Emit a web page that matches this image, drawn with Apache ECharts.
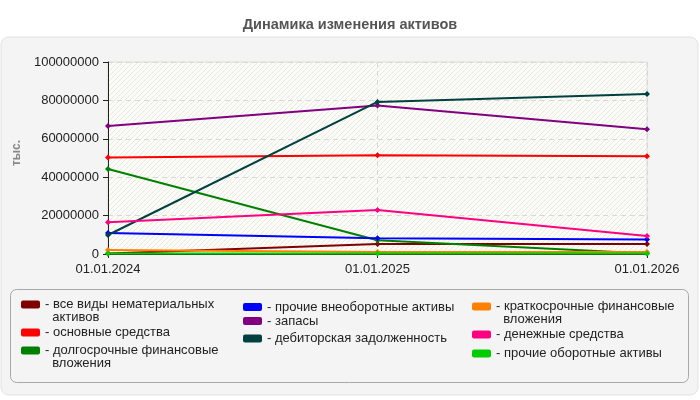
<!DOCTYPE html>
<html>
<head>
<meta charset="utf-8">
<script src="https://cdn.jsdelivr.net/npm/echarts@6/dist/echarts.min.js"></script>
<style>html,body{margin:0;padding:0;background:#fff;}#c{width:700px;height:400px;}</style>
</head>
<body>
<div id="c"></div>
<script>
const categories = ['01.01.2024', '01.01.2025', '01.01.2026'];
const intangibles = [300000, 5200000, 5200000];
const fixedAssets = [50300000, 51400000, 50900000];
const longTermInvest = [44300000, 7200000, 300000];
const otherNonCurrent = [11000000, 8200000, 7600000];
const inventories = [66700000, 77400000, 65000000];
const receivables = [9900000, 79200000, 83300000];
const shortTermInvest = [2100000, 1000000, 1000000];
const cash = [16500000, 22900000, 9400000];
const otherCurrent = [200000, 200000, 200000];
const yTicks = [0, 20000000, 40000000, 60000000, 80000000, 100000000];

const seriesDefs = [
  { name: 'все виды нематериальных\nактивов', data: intangibles, color: '#800000' },
  { name: 'основные средства', data: fixedAssets, color: '#ff0000' },
  { name: 'долгосрочные финансовые\nвложения', data: longTermInvest, color: '#008000' },
  { name: 'прочие внеоборотные активы', data: otherNonCurrent, color: '#0000ff' },
  { name: 'запасы', data: inventories, color: '#800080' },
  { name: 'дебиторская задолженность', data: receivables, color: '#004040' },
  { name: 'краткосрочные финансовые\nвложения', data: shortTermInvest, color: '#ff8000' },
  { name: 'денежные средства', data: cash, color: '#ff0080' },
  { name: 'прочие оборотные активы', data: otherCurrent, color: '#00cc00' }
];
// legend placement: [left, icon centre y]
const legendPos = [
  [21, 303], [21, 331], [21, 349],
  [243, 305.5], [243, 319.5], [243, 337],
  [472, 305], [472, 333], [472, 352]
];

// hatch pattern for plot background
const pc = document.createElement('canvas');
pc.width = 5; pc.height = 5;
const pctx = pc.getContext('2d');
pctx.fillStyle = '#fcfcf7';
pctx.fillRect(0, 0, 5, 5);
pctx.strokeStyle = '#e8e8e6';
pctx.lineWidth = 1;
pctx.beginPath();
pctx.moveTo(0, 5); pctx.lineTo(5, 0);
pctx.moveTo(-1, 1); pctx.lineTo(1, -1);
pctx.moveTo(4, 6); pctx.lineTo(6, 4);
pctx.stroke();

const FONT = 'Arial, "Liberation Sans", sans-serif';
const LH = 13;

const chart = echarts.init(document.getElementById('c'), null, { renderer: 'canvas' });

const legends = seriesDefs.map((s, i) => {
  const multi = s.name.indexOf('\n') >= 0;
  const cy = legendPos[i][1];
  return {
    data: [s.name],
    left: legendPos[i][0],
    top: multi ? cy - LH * 1.5 + 1.5 : cy - LH / 2 + 1.5,
    padding: 0,
    icon: 'roundRect',
    itemWidth: 19,
    itemHeight: 8,
    selectedMode: false,
    formatter: n => multi ? '\n- ' + n.replace('\n', '\n  ') : '- ' + n,
    textStyle: {
      fontFamily: FONT, fontSize: 13, color: '#222', lineHeight: LH
    }
  };
});

const option = {
  backgroundColor: '#ffffff',
  animation: false,
  title: {
    text: 'Динамика изменения активов',
    left: 'center',
    top: 12,
    textStyle: { fontFamily: FONT, fontSize: 14.5, fontWeight: 'bold', color: '#555' }
  },
  graphic: [
    { type: 'rect', z: -10, shape: { x: 1, y: 37, width: 697, height: 358, r: 8 },
      style: { fill: '#f4f4f4', stroke: '#e2e2e2', lineWidth: 1 } },
    { type: 'rect', z: -9, shape: { x: 10.5, y: 289.5, width: 678, height: 93, r: 6 },
      style: { fill: '#f4f4f4', stroke: '#a8a8a8', lineWidth: 1 } }
  ],
  legend: legends,
  grid: {
    left: 108, right: 53, top: 62, bottom: 146,
    show: true,
    backgroundColor: { image: pc, repeat: 'repeat' },
    borderColor: '#dcdcdc', borderWidth: 1
  },
  xAxis: {
    type: 'category',
    data: categories,
    boundaryGap: false,
    axisLine: { lineStyle: { color: '#222', width: 1 } },
    axisTick: { show: true, length: 4, lineStyle: { color: '#222' } },
    axisLabel: { fontFamily: FONT, fontSize: 13, color: '#222', margin: 9 },
    splitLine: { show: true, lineStyle: { color: '#d8d8d8', type: [5, 4] } }
  },
  yAxis: {
    type: 'value',
    min: yTicks[0],
    max: yTicks[yTicks.length - 1],
    interval: yTicks[1] - yTicks[0],
    name: 'тыс.',
    nameLocation: 'middle',
    nameRotate: 90,
    nameGap: 72,
    nameTextStyle: { fontFamily: FONT, fontSize: 12, fontWeight: 'bold', color: '#888', padding: [0, 0, 0, 10] },
    axisLine: { show: true, lineStyle: { color: '#222', width: 1 } },
    axisTick: { show: true, length: 5, lineStyle: { color: '#222' } },
    axisLabel: { fontFamily: FONT, fontSize: 13, color: '#222', margin: 9, formatter: v => String(v) },
    splitLine: { show: true, lineStyle: { color: '#d8d8d8', type: [5, 4] } }
  },
  series: seriesDefs.map(s => ({
    name: s.name,
    type: 'line',
    data: s.data,
    color: s.color,
    symbol: 'diamond',
    symbolSize: 6,
    showSymbol: true,
    lineStyle: { width: 2, color: s.color },
    itemStyle: { color: s.color }
  }))
};
chart.setOption(option);
</script>
</body>
</html>
